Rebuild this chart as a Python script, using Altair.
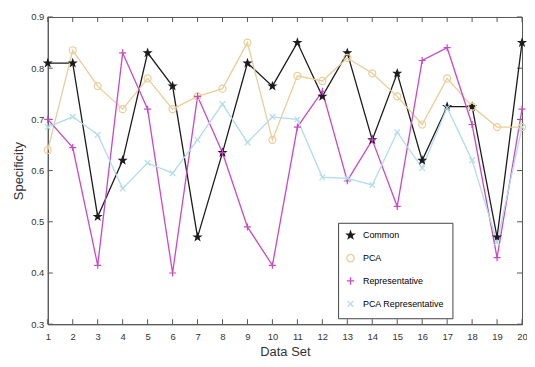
import altair as alt
import pandas as pd

datasets = list(range(1, 21))
series_names = ["Common", "PCA", "Representative", "PCA Representative"]
common = [0.81, 0.81, 0.51, 0.62, 0.83, 0.765, 0.47, 0.635, 0.81, 0.765,
          0.85, 0.745, 0.83, 0.66, 0.79, 0.62, 0.725, 0.725, 0.47, 0.85]
pca = [0.64, 0.835, 0.765, 0.72, 0.78, 0.72, 0.745, 0.76, 0.85, 0.66,
       0.785, 0.775, 0.82, 0.79, 0.745, 0.69, 0.78, 0.725, 0.685, 0.685]
representative = [0.70, 0.645, 0.415, 0.83, 0.72, 0.40, 0.745, 0.635, 0.49, 0.415,
                  0.685, 0.755, 0.58, 0.66, 0.53, 0.815, 0.84, 0.69, 0.43, 0.72]
pca_representative = [0.685, 0.705, 0.67, 0.565, 0.615, 0.595, 0.66, 0.73, 0.655, 0.705,
                      0.70, 0.587, 0.585, 0.572, 0.675, 0.605, 0.723, 0.62, 0.46, 0.685]
x_ticks = list(range(1, 21))
y_ticks = [0.3, 0.4, 0.5, 0.6, 0.7, 0.8, 0.9]

colors = ["#1c1c1c", "#ebcd98", "#c848c8", "#b2dde9"]
star = ("M0,-1L0.235,-0.324L0.951,-0.309L0.38,0.124L0.588,0.809L0,0.4"
        "L-0.588,0.809L-0.38,0.124L-0.951,-0.309L-0.235,-0.324Z")
plus = "M-1,0L1,0M0,-1L0,1"
xmark = "M-0.8,-0.8L0.8,0.8M-0.8,0.8L0.8,-0.8"
shapes = [star, "circle", plus, xmark]
fills = ["#1c1c1c", "transparent", "transparent", "transparent"]

rows = []
for name, vals in zip(series_names, [common, pca, representative, pca_representative]):
    for d, v in zip(datasets, vals):
        rows.append({"ds": d, "value": v, "series": name})
df = pd.DataFrame(rows)

W, H = 477, 309
FONT = "Liberation Sans"

xscale = alt.Scale(domain=[1, 20], nice=False, zero=False)
yscale = alt.Scale(domain=[0.3, 0.9], nice=False, zero=False)
xaxis = alt.Axis(values=x_ticks, format="d", ticks=False, grid=False,
                 labelFlush=False, labelPadding=7, title="Data Set",
                 titlePadding=5)
yaxis = alt.Axis(values=y_ticks, format=".1f", ticks=False, grid=False,
                 labelFlush=False, labelPadding=4, title="Specificity",
                 titlePadding=5)

legend = alt.Legend(title=None, orient="none", legendX=292, legendY=207,
                    strokeColor="#444444", fillColor="white", padding=8,
                    labelFontSize=9, labelFont=FONT, symbolSize=55,
                    rowPadding=10, labelOffset=8, symbolStrokeWidth=1.3)

X = alt.X("ds:Q", scale=xscale, axis=xaxis)
Y = alt.Y("value:Q", scale=yscale, axis=yaxis)
C = alt.Color("series:N", scale=alt.Scale(domain=series_names, range=colors),
              legend=legend)

base = alt.Chart(df).encode(x=X, y=Y, color=C)
lines = base.mark_line(strokeWidth=1.3)
points = base.mark_point(filled=False, size=50, strokeWidth=1.2, opacity=1).encode(
    shape=alt.Shape("series:N", scale=alt.Scale(domain=series_names, range=shapes),
                    legend=legend),
    fill=alt.Fill("series:N", scale=alt.Scale(domain=series_names, range=fills),
                  legend=legend),
)

xt = pd.DataFrame({"ds": x_ticks})
yt = pd.DataFrame({"value": y_ticks})
tick_color = "#555555"
xt_bottom = alt.Chart(xt).mark_rule(color=tick_color).encode(
    x=X, y=alt.value(H), y2=alt.value(H - 5))
xt_top = alt.Chart(xt).mark_rule(color=tick_color).encode(
    x=X, y=alt.value(0), y2=alt.value(5))
yt_left = alt.Chart(yt).mark_rule(color=tick_color).encode(
    y=Y, x=alt.value(0), x2=alt.value(5))
yt_right = alt.Chart(yt).mark_rule(color=tick_color).encode(
    y=Y, x=alt.value(W - 5), x2=alt.value(W))

chart = alt.layer(xt_bottom, xt_top, yt_left, yt_right, lines, points).properties(
    width=W, height=H,
    autosize=alt.AutoSizeParams(type="none"),
    padding={"left": 40, "top": 8, "right": 5, "bottom": 40},
).configure_view(
    stroke="#555555", strokeWidth=1
).configure_axis(
    domainColor="#555555", labelColor="#333333", labelFont=FONT, labelFontSize=9.5,
    titleFont=FONT, titleFontSize=13, titleFontWeight="normal", titleColor="#333333"
)

chart.save("out.html", embed_options={"renderer": "svg", "actions": False})
